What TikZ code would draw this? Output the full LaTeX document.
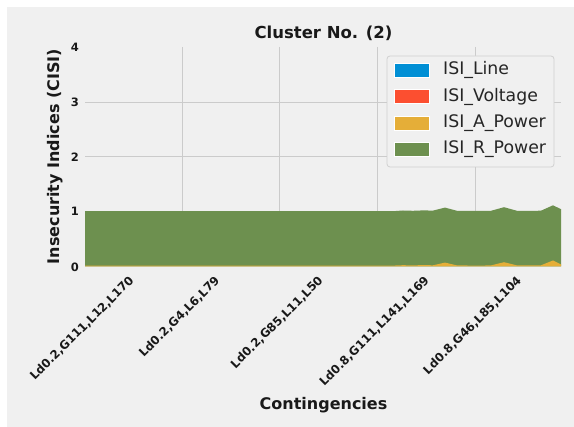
\documentclass[tikz,border=0pt]{standalone}
\usepackage{fontspec}
\setmainfont{DejaVu Sans}
\definecolor{figbg}{HTML}{F0F0F0}
\definecolor{gridc}{HTML}{CBCBCB}
\definecolor{cblue}{HTML}{008FD5}
\definecolor{cred}{HTML}{FC4F30}
\definecolor{cyellow}{HTML}{E5AE38}
\definecolor{cgreen}{HTML}{6D904F}
\definecolor{legedge}{HTML}{D0D0D0}
\tikzset{
  ticklbl/.style={font=\fontsize{11.5}{13}\selectfont\bfseries, inner sep=0pt, text=black!90},
  xticklbl/.style={font=\fontsize{11.8}{13}\selectfont\bfseries, inner sep=0pt, text=black!90, rotate=45, anchor=center},
  axlbl/.style={font=\fontsize{16}{19}\selectfont\bfseries, inner sep=0pt, text=black!90},
  titlelbl/.style={font=\fontsize{16.5}{20}\selectfont\bfseries, inner sep=0pt, text=black!90},
  leglbl/.style={font=\fontsize{17.3}{20}\selectfont, inner sep=0pt, anchor=west, text=black!85},
  legpatch/.style={minimum width=35pt, minimum height=14pt, inner sep=0pt, draw=white, line width=0.3pt},
  gridln/.style={draw=gridc, line width=1pt},
}
\begin{document}
\begin{tikzpicture}[x=1pt,y=-1pt]
\useasboundingbox (0,0) rectangle (574,427);
\fill[white] (0,0) rectangle (574,427);
\fill[figbg] (7,7) rectangle (574,427);

% grid
\foreach \gx in {182,279.5,377,475}{\draw[gridln] (\gx,47) -- (\gx,266);}
\foreach \gy in {102.3,157,211.5}{\draw[gridln] (85,\gy) -- (561,\gy);}

% stacked areas
\fill[cgreen] (85,211.2) -- (393,211.2) -- (403,210.5) -- (413,210.8) -- (423,210.4) -- (433,210.6)
  -- (445,207.6) -- (457,210.8) -- (467,210.9) -- (480,211) -- (491,210.8) -- (504,207.2)
  -- (517,210.8) -- (530,210.9) -- (541,210.7) -- (553,205.3) -- (561,209.2) -- (561,266.3) -- (85,266.3) -- cycle;
\fill[cyellow] (85,265.6) -- (393,265.6) -- (403,265.2) -- (413,265.4) -- (423,265.1) -- (433,265.3)
  -- (445,262.6) -- (457,265.4) -- (467,265.5) -- (480,265.6) -- (491,265.4) -- (504,262.2)
  -- (517,265.4) -- (530,265.5) -- (541,265.3) -- (553,260.5) -- (561,264.4) -- (561,266.3) -- (85,266.3) -- cycle;

% title
\node[titlelbl] (title) at (323.5,33) {Cluster No. (2)};

% y ticks
\node[ticklbl, anchor=east] (y0) at (79,267) {0};
\node[ticklbl, anchor=east] (y1) at (79,211.5) {1};
\node[ticklbl, anchor=east] (y2) at (79,157) {2};
\node[ticklbl, anchor=east] (y3) at (79,102.3) {3};
\node[ticklbl, anchor=east] (y4) at (79,47.3) {4};

% x ticks
\node[xticklbl] (x0) at (82,328.5) {Ld0.2,G111,L12,L170};
\node[xticklbl] (x1) at (179.5,316.9) {Ld0.2,G4,L6,L79};
\node[xticklbl] (x2) at (277,322.7) {Ld0.2,G85,L11,L50};
\node[xticklbl] (x3) at (374.5,331.4) {Ld0.8,G111,L141,L169};
\node[xticklbl] (x4) at (472.5,325.6) {Ld0.8,G46,L85,L104};

% axis labels
\node[axlbl] (xlab) at (323.5,405) {Contingencies};
\node[axlbl, rotate=90] (ylab) at (55,156.5) {Insecurity Indices (CISI)};

% legend
\draw[fill=figbg, draw=legedge, line width=0.8pt, rounded corners=3pt] (387,56) rectangle (554,167);
\node[legpatch, fill=cblue] (p1) at (411.5,70) {};
\node[legpatch, fill=cred] (p2) at (411.5,96.5) {};
\node[legpatch, fill=cyellow] (p3) at (411.5,123) {};
\node[legpatch, fill=cgreen] (p4) at (411.5,149.5) {};
\node[leglbl] (l1) at (443,70) {ISI\_Line};
\node[leglbl] (l2) at (443,96.5) {ISI\_Voltage};
\node[leglbl] (l3) at (443,123) {ISI\_A\_Power};
\node[leglbl] (l4) at (443,149.5) {ISI\_R\_Power};
\end{tikzpicture}
\end{document}
